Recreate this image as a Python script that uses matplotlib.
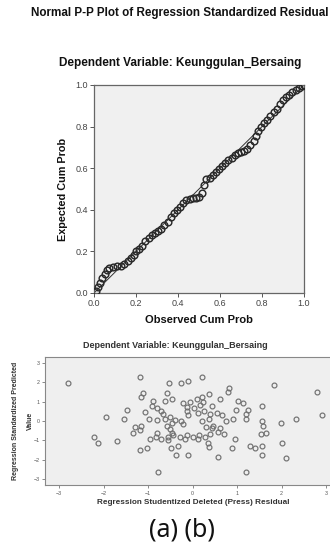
import matplotlib
matplotlib.use("Agg")
import matplotlib.pyplot as plt

plt.rcParams["font.family"] = ["Liberation Sans", "DejaVu Sans"]

# (a) Normal P-P plot: observed vs expected cumulative probability
pp_observed = [0.01, 0.02, 0.03, 0.04, 0.05, 0.06, 0.07, 0.09, 0.11, 0.13,
               0.145, 0.16, 0.175, 0.19, 0.20, 0.215, 0.23, 0.245, 0.26, 0.275,
               0.29, 0.305, 0.32, 0.335, 0.35, 0.365, 0.38, 0.395, 0.41, 0.425,
               0.44, 0.455, 0.47, 0.485, 0.50, 0.515, 0.525, 0.535, 0.55, 0.565,
               0.58, 0.595, 0.61, 0.625, 0.64, 0.655, 0.67, 0.685, 0.70, 0.715,
               0.73, 0.745, 0.76, 0.77, 0.78, 0.795, 0.81, 0.825, 0.84, 0.855,
               0.87, 0.885, 0.90, 0.915, 0.93, 0.945, 0.96, 0.975, 0.99, 1.00]
pp_expected = [0.01, 0.03, 0.05, 0.07, 0.09, 0.11, 0.12, 0.125, 0.13, 0.13,
               0.14, 0.155, 0.17, 0.185, 0.20, 0.21, 0.225, 0.25, 0.265, 0.28,
               0.29, 0.30, 0.31, 0.325, 0.34, 0.365, 0.385, 0.40, 0.415, 0.435,
               0.445, 0.45, 0.455, 0.455, 0.46, 0.48, 0.52, 0.55, 0.555, 0.565,
               0.58, 0.595, 0.61, 0.625, 0.64, 0.65, 0.665, 0.675, 0.68, 0.685,
               0.69, 0.71, 0.73, 0.755, 0.78, 0.80, 0.815, 0.83, 0.85, 0.87,
               0.885, 0.91, 0.93, 0.94, 0.95, 0.965, 0.975, 0.985, 0.995, 1.00]
pp_ticks = [0.0, 0.2, 0.4, 0.6, 0.8, 1.0]

# (b) scatter: studentized deleted residual vs standardized predicted value
sc_resid = [-2.80, -1.18, -0.52, -0.25, -0.10, 0.20, -1.12, -1.15, -0.58, 0.82,
            0.80, 1.83, 2.79, -0.47, -0.62, -0.88, -0.92, -0.81, -1.07, -1.48,
            -0.98, -1.54, -1.95, -0.70, -0.66, -0.22, -0.13, -0.07, 0.09, 0.22,
            0.37, 0.24, 0.16, 0.04, -0.13, -0.11, 0.13, 0.25, 0.43, 0.61,
            0.54, 0.39, 0.67, 0.97, 1.02, 1.14, 1.25, 1.21, 1.20, 1.55,
            0.91, 0.76, 0.22, 0.37, -0.25, -0.40, -0.51, -0.61, -0.47, -0.58,
            -0.81, -1.29, -1.34, -1.18, -1.15, -0.96, -0.82, -0.81, -0.70, -0.56,
            -0.55, -0.47, -0.51, -0.28, -0.17, -0.13, 0.00, 0.13, 0.14, 0.28,
            0.40, 0.31, 0.43, 0.46, 0.58, 0.70, 0.61, 0.95, 1.55, 1.59,
            1.53, 1.66, 1.99, 2.32, 2.92, 2.01, 1.29, 1.40, 1.56, -2.22,
            -2.12, -1.69, -1.18, -1.03, -0.49, -0.32, 0.35, 0.37, 0.89, -0.38,
            -0.10, 0.58, 1.57, 2.10, -0.77, 1.20, -0.45, -0.21]
sc_pred = [1.94, 2.29, 1.94, 1.94, 2.04, 2.29, 1.46, 1.25, 1.46, 1.72,
           1.49, 1.84, 1.48, 1.13, 1.03, 1.03, 0.79, 0.65, 0.48, 0.57,
           0.12, 0.10, 0.22, 0.52, 0.36, 0.91, 0.74, 1.00, 1.13, 1.22,
           1.37, 1.00, 0.82, 0.69, 0.53, 0.31, 0.43, 0.53, 0.77, 1.12,
           0.43, 0.36, 0.31, 0.57, 1.03, 0.91, 0.57, 0.36, 0.12, 0.79,
           0.09, 0.02, 0.00, 0.09, 0.00, 0.05, 0.19, 0.09, -0.12, -0.24,
           0.05, -0.33, -0.60, -0.46, -0.26, -0.95, -0.81, -0.60, -0.91, -0.98,
           -0.81, -0.64, -0.43, -0.81, -0.95, -0.72, -0.81, -0.95, -0.72, -0.84,
           -0.69, -0.33, -0.38, -0.26, -0.55, -0.69, -0.34, -0.93, 0.00, -0.24,
           -0.69, -0.60, -0.12, 0.10, 0.31, -1.15, -1.29, -1.37, -1.29, -0.81,
           -1.15, -1.03, -1.49, -1.41, -1.37, -1.29, -1.15, -1.36, -1.37, -1.75,
           -1.75, -1.84, -1.75, -1.92, -2.63, -2.63, -0.70, -0.14]
sc_ticks = [-3, -2, -1, 0, 1, 2, 3]

W, H = 330, 546
fig = plt.figure(figsize=(W / 100, H / 100), dpi=100)
fig.patch.set_facecolor("white")


def fx(px):
    return px / W


def fy(py):
    return 1 - py / H


# ---- (a) P-P plot ----
ax = fig.add_axes([fx(94), fy(293), fx(304) - fx(94), fy(85) - fy(293)])
ax.set_facecolor("#f0f0f0")
ax.plot([0, 1], [0, 1], color="#333333", linewidth=0.7, zorder=2)
ax.plot(pp_observed, pp_expected, linestyle="none", marker="o", markersize=4.8,
        markerfacecolor="none", markeredgecolor="#2a2a2a", markeredgewidth=1.05,
        zorder=3)
ax.set_xlim(0, 1)
ax.set_ylim(0, 1)
ax.set_xticks(pp_ticks)
ax.set_yticks(pp_ticks)
ax.set_xticklabels([f"{t:.1f}" for t in pp_ticks])
ax.set_yticklabels([f"{t:.1f}" for t in pp_ticks])
ax.tick_params(length=3, width=0.7, color="#555555", labelsize=6.5,
               labelcolor="#444444", pad=1.5)
for s in ax.spines.values():
    s.set_color("#666666")
    s.set_linewidth(0.9)
ax.set_xlabel("Observed Cum Prob", fontsize=8.0, fontweight="bold",
              color="#111111", labelpad=5)
ax.set_ylabel("Expected Cum Prob", fontsize=7.8, fontweight="bold",
              color="#111111", labelpad=5)

fig.text(fx(180), fy(13), "Normal P-P Plot of Regression Standardized Residual",
         ha="center", va="center", fontsize=8.4, fontweight="bold", color="#111111")
fig.text(fx(180), fy(63), "Dependent Variable: Keunggulan_Bersaing",
         ha="center", va="center", fontsize=8.5, fontweight="bold", color="#111111")

# ---- (b) scatter plot ----
bx = fig.add_axes([fx(45), fy(485), fx(330) - fx(45), fy(357) - fy(485)])
bx.set_facecolor("#efefef")
bx.plot(sc_resid, sc_pred, linestyle="none", marker="o", markersize=3.5,
        markerfacecolor="none", markeredgecolor="#707070", markeredgewidth=0.85)
bx.set_xlim(-3.32, 3.09)
bx.set_ylim(-3.3, 3.3)
bx.set_xticks(sc_ticks)
bx.set_yticks(sc_ticks)
bx.tick_params(length=2.5, width=0.6, color="#777777", labelsize=3.8,
               labelcolor="#555555", pad=1.5)
for s in bx.spines.values():
    s.set_color("#888888")
    s.set_linewidth(0.8)
bx.spines["right"].set_visible(False)

fig.text(fx(175), fy(346), "Dependent Variable: Keunggulan_Bersaing",
         ha="center", va="center", fontsize=6.5, fontweight="bold", color="#333333")
fig.text(fx(193), fy(503), "Regression Studentized Deleted (Press) Residual",
         ha="center", va="center", fontsize=5.9, fontweight="bold", color="#333333")
fig.text(fx(16), fy(421), "Regression Standardized Predicted",
         ha="center", va="center", rotation=90, fontsize=5.0, fontweight="bold",
         color="#333333")
fig.text(fx(30), fy(421), "Value", ha="center", va="center", rotation=90,
         fontsize=5.0, fontweight="bold", color="#333333")

fig.text(fx(182), fy(530), "(a) (b)", ha="center", va="center", fontsize=18,
         family=["Noto Sans", "DejaVu Sans"], color="#111111")

fig.savefig("out.png", dpi=100)
